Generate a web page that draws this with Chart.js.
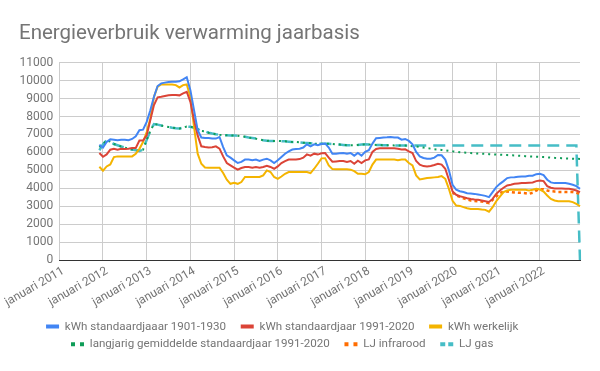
<!DOCTYPE html>
<html>
<head>
<meta charset="utf-8">
<script src="https://cdn.jsdelivr.net/npm/chart.js@4.4.1/dist/chart.umd.min.js"></script>
<style>
html,body{margin:0;padding:0;background:#ffffff;}
#wrap{width:600px;height:371px;}
</style>
</head>
<body>
<div id="wrap"><canvas id="c" width="600" height="371"></canvas></div>
<script>
// ---- data ----
const chartTitle = 'Energieverbruik verwarming jaarbasis';
const years = [2011, 2012, 2013, 2014, 2015, 2016, 2017, 2018, 2019, 2020, 2021, 2022];
const monthNumbers = ['01','02','03','04','05','06','07','08','09','10','11','12'];
const tickPrefix = 'januari ';
const seriesNames = [
  'kWh standaardjaaar 1901-1930',
  'kWh standaardjaar 1991-2020',
  'kWh werkelijk',
  'langjarig gemiddelde standaardjaar 1991-2020',
  'LJ infrarood',
  'LJ gas'
];
// values from 2011-12 to 2022-12
const mainStart = '2011-12';
const kwh1901 = [6430,
  6270,6580,6730,6710,6680,6710,6710,6680,6750,6900,7240,7270,
  7700,8350,9100,9700,9850,9890,9920,9940,9940,9960,10070,10190,
  9470,8360,7240,6830,6800,6800,6770,6770,6860,6300,5840,5710,
  5560,5410,5470,5600,5600,5560,5600,5520,5600,5650,5560,5410,
  5560,5750,5930,6060,6160,6190,6210,6270,6450,6340,6450,6400,
  6470,6500,6270,5930,5930,5950,5970,5930,5970,5820,5970,5820,
  6030,6120,6490,6790,6810,6830,6840,6860,6830,6830,6710,6750,
  6640,6450,6030,5780,5690,5650,5650,5710,5860,5840,5600,5000,
  4200,3920,3840,3790,3730,3710,3690,3660,3620,3580,3510,3790,
  4070,4250,4400,4570,4610,4620,4640,4660,4660,4700,4700,4790,
  4810,4740,4480,4330,4290,4290,4290,4290,4250,4200,4120,3970];
const kwh1991 = [5970,
  5760,5890,6150,6200,6150,6200,6190,6200,6250,6250,6660,6660,
  6950,7800,8640,9070,9100,9140,9180,9200,9200,9180,9290,9380,
  8820,7800,6950,6340,6300,6270,6290,6340,6210,5780,5410,5280,
  5150,5040,5130,5190,5190,5150,5190,5150,5190,5260,5190,5090,
  5220,5410,5520,5600,5610,5610,5630,5710,5890,5820,5930,5880,
  5950,5960,5710,5480,5500,5520,5520,5470,5520,5370,5540,5410,
  5560,5610,6030,6190,6230,6230,6230,6230,6230,6210,6160,6170,
  6060,5970,5520,5320,5240,5220,5240,5300,5370,5320,5090,4480,
  3830,3640,3560,3510,3450,3410,3380,3360,3320,3280,3240,3410,
  3690,3880,4030,4160,4200,4250,4270,4290,4290,4310,4330,4400,
  4440,4400,4120,4030,3990,3990,3990,3970,3970,3930,3880,3790];
const kwhWerkelijk = [5200,
  4980,5220,5330,5740,5780,5780,5780,5780,5780,5930,6200,6580,
  7140,7890,9100,9660,9790,9790,9790,9790,9750,9620,9750,9790,
  9100,7420,5930,5370,5160,5150,5150,5150,5150,4850,4480,4250,
  4310,4250,4350,4630,4630,4630,4630,4630,4720,5000,4910,4630,
  4530,4660,4810,4910,4910,4910,4910,4910,4910,4850,5090,5370,
  5670,5680,5280,5070,5060,5060,5060,5060,5040,4960,4810,4810,
  4780,4910,5320,5600,5600,5600,5600,5600,5600,5560,5600,5600,
  5410,5280,4720,4490,4530,4570,4590,4610,4630,4680,4530,3970,
  3300,3040,3020,2950,2890,2850,2850,2850,2820,2800,2700,2950,
  3280,3540,3790,3880,3920,3920,3920,3920,3920,3880,3920,3970,
  3930,3820,3600,3410,3320,3280,3280,3280,3280,3230,3130,3000];
const ljGemiddeld = [6300,
  6450,6680,6600,6470,6400,6330,6270,6200,6160,6120,6080,6150,
  6700,7200,7580,7550,7500,7460,7420,7380,7350,7330,7380,7440,
  7430,7380,7300,7200,7180,7100,7050,7010,6980,6960,6960,6950,
  6950,6930,6900,6870,6830,6800,6770,6720,6680,6650,6640,6640,
  6640,6630,6620,6600,6580,6580,6560,6540,6530,6510,6490,6490,
  6490,6490,6480,6470,6450,6440,6420,6400,6400,6400,6420,6440,
  6450,6440,6430,6420,6410,6400,6400,6400,6390,6390,6380,6380,
  6370,6350,6330,6300,6270,6240,6210,6180,6160,6140,6120,6090,
  6060,6040,6010,5995,5980,5965,5950,5940,5930,5920,5905,5890,
  5880,5870,5860,5850,5840,5835,5820,5805,5790,5780,5770,5760,
  5750,5740,5725,5715,5700,5690,5680,5670,5660,5650,5645,5640];
const ljGas = [6120,
  6450,6680,6600,6470,6400,6330,6270,6200,6160,6120,6080,6150,
  6700,7200,7580,7550,7500,7460,7420,7380,7350,7330,7380,7440,
  7430,7380,7300,7200,7180,7100,7050,7010,6980,6960,6960,6950,
  6950,6930,6900,6870,6830,6800,6770,6720,6680,6650,6640,6640,
  6640,6630,6620,6600,6580,6580,6560,6540,6530,6510,6490,6490,
  6490,6490,6480,6470,6450,6440,6420,6400,6400,6400,6420,6440,
  6450,6440,6430,6420,6410,6400,6400,6400,6390,6390,6380,6380,
  6380,6380,6380,6380,6380,6380,6380,6380,6380,6380,6380,6380,
  6380,6380,6380,6380,6380,6380,6380,6380,6380,6380,6380,6380,
  6380,6380,6380,6380,6380,6380,6380,6380,6380,6380,6380,6380,
  6380,6380,6380,6380,6380,6380,6380,6380,6380,6380,6380,0];
// values from 2020-01 to 2022-12
const infraroodStart = '2020-01';
const ljInfrarood = [
  3780,3600,3520,3440,3390,3320,3300,3280,3260,3230,3170,3360,
  3540,3730,3820,3820,3790,3770,3750,3750,3730,3690,3750,3880,
  3950,3950,3880,3840,3820,3800,3800,3790,3790,3790,3750,3690];

// ---- build category axis and aligned series ----
const months = [];
years.forEach(y => monthNumbers.forEach(m => months.push(y + '-' + m)));
function align(values, start) {
  const offset = months.indexOf(start);
  const out = months.map(() => null);
  values.forEach((v, i) => { out[offset + i] = v; });
  return out;
}

// ---- styles ----
const colors = ['#4285F4', '#DB4437', '#F4B400', '#0F9D58', '#FF6D01', '#46BDC6'];
const lineDashes = [[], [], [], [2, 4], [3, 3], [12, 7]];
const lineWidths = [2, 2, 2, 2, 2.5, 2.5];
const legendDashes = [[], [], [], [4, 5], [4, 5], [5, 3]];
const seriesData = [
  align(kwh1901, mainStart),
  align(kwh1991, mainStart),
  align(kwhWerkelijk, mainStart),
  align(ljGemiddeld, mainStart),
  align(ljInfrarood, infraroodStart),
  align(ljGas, mainStart)
];

const datasets = seriesNames.map((name, i) => ({
  label: name,
  data: seriesData[i],
  borderColor: colors[i],
  backgroundColor: colors[i],
  borderWidth: lineWidths[i],
  borderDash: lineDashes[i],
  pointRadius: 0,
  pointHoverRadius: 0,
  pointStyle: 'line',
  tension: 0,
  fill: false
}));

const FONT = 'Roboto';
const legendShift = {
  id: 'legendShift',
  afterLayout(chart) {
    if (chart.legend) { chart.legend.left -= 13; chart.legend.right -= 13; }
  }
};

new Chart(document.getElementById('c'), {
  type: 'line',
  data: { labels: months, datasets },
  plugins: [legendShift],
  options: {
    responsive: false,
    animation: false,
    devicePixelRatio: 1,
    layout: { padding: { left: 19, right: 20, top: 0, bottom: 11 }, autoPadding: false },
    plugins: {
      title: {
        display: true, text: chartTitle, align: 'start', color: '#757575',
        font: { family: FONT, size: 20.5, weight: 'normal' },
        padding: { top: 21.5, bottom: 16.6 }
      },
      legend: {
        position: 'bottom',
        labels: {
          color: '#757575',
          font: { family: FONT, size: 11.6 },
          usePointStyle: true,
          pointStyleWidth: 13,
          boxHeight: 12,
          padding: 6,
          generateLabels: (chart) => {
            const items = Chart.defaults.plugins.legend.labels.generateLabels(chart);
            return items.map((it, i) => Object.assign(it, {
              text: it.text + '\u00a0\u00a0\u00a0',
              pointStyle: 'line',
              lineWidth: 4,
              lineDash: legendDashes[i],
              strokeStyle: colors[i],
              fillStyle: colors[i],
              lineCap: 'butt',
              fontColor: '#757575'
            }));
          }
        }
      },
      tooltip: { enabled: false }
    },
    scales: {
      x: {
        type: 'category',
        offset: false,
        grid: {
          color: (ctx) => (ctx.index % 12 === 0 ? '#cccccc' : 'rgba(0,0,0,0)'),
          drawTicks: false,
          lineWidth: 1
        },
        border: { display: true, color: '#333333', width: 1 },
        ticks: {
          autoSkip: false,
          maxRotation: 30,
          minRotation: 30,
          color: '#757575',
          font: { family: FONT, size: 12 },
          padding: 4,
          labelOffset: 4,
          callback: (val, idx) => (idx % 12 === 0 ? tickPrefix + years[idx / 12] : '')
        },
        afterFit: (s) => { s.height = 54.7; s.paddingLeft = 0; s.paddingRight = 0; }
      },
      y: {
        min: 0,
        max: 11000,
        ticks: {
          stepSize: 1000,
          color: '#757575',
          font: { family: FONT, size: 12 },
          padding: 6,
          callback: (v) => String(v)
        },
        grid: {
          color: (ctx) => (ctx.tick && ctx.tick.value === 0 ? '#333333' : '#cccccc'),
          drawTicks: false
        },
        border: { display: false },
        afterFit: (s) => { s.width = 40.3; s.paddingTop = 0; s.paddingBottom = 0; }
      }
    }
  }
});
</script>
</body>
</html>
